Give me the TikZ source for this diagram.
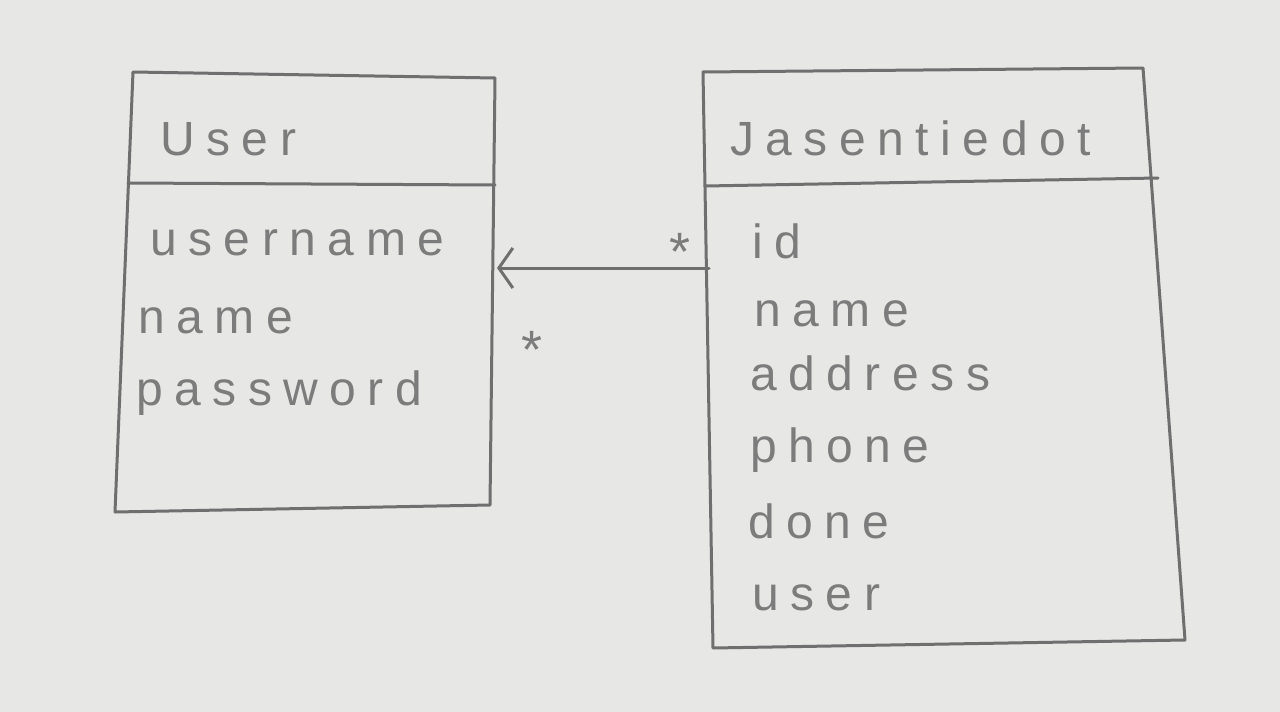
\documentclass[tikz,border=0pt]{standalone}
\usepackage{fontspec}
\setmainfont{Liberation Sans}[LetterSpace=24]
\usetikzlibrary{arrows.meta}
\definecolor{paper}{HTML}{E7E7E6}
\definecolor{pencil}{HTML}{6F6F6F}
\definecolor{ink}{HTML}{7C7C7C}
\tikzset{
  pen/.style={draw=pencil, line width=3pt, line join=round, line cap=round},
  txt/.style={anchor=base west, inner sep=0pt, text=ink, font=\fontsize{48}{48}\selectfont},
  star/.style={inner sep=0pt, text=ink, font=\fontsize{54}{54}\selectfont}
}
\begin{document}
\begin{tikzpicture}[x=1pt,y=-1pt]
\fill[paper] (0,0) rectangle (1280,712);
\useasboundingbox (0,0) rectangle (1280,712);
% User box
\coordinate (u1) at (133,72);
\coordinate (u2) at (495,78);
\coordinate (u3) at (490,505);
\coordinate (u4) at (115,512);
\draw[pen] (u1) -- (u2) -- (u3) -- (u4) -- cycle;
\draw[pen] (128,183) -- (495,185);
% Jasentiedot box
\coordinate (j1) at (703,72);
\coordinate (j2) at (1143,68);
\coordinate (j3) at (1185,640);
\coordinate (j4) at (713,648);
\draw[pen] (j1) -- (j2) -- (j3) -- (j4) -- cycle;
\draw[pen] (705,186) -- (1158,178);
% texts
\node[txt] (ut) at (160,155) {User};
\node[txt] (ua1) at (150,255) {username};
\node[txt] (ua2) at (138,333) {name};
\node[txt] (ua3) at (136,405) {password};
\node[txt] (jt) at (730,155) {Jasentiedot};
\node[txt] (ja1) at (752,258) {id};
\node[txt] (ja2) at (754,326) {name};
\node[txt] (ja3) at (750,390) {address};
\node[txt] (ja4) at (750,462) {phone};
\node[txt] (ja5) at (748,538) {done};
\node[txt] (ja6) at (752,610) {user};
% connector
\coordinate (jl) at (709,268);
\coordinate (ur) at (497,268);
\draw[pen, -{Straight Barb[length=14pt,width=40pt,line width=3pt]}] (jl) -- (ur);
\node[star] (m1) at (680,252) {*};
\node[star] (m2) at (532,350) {*};
\end{tikzpicture}
\end{document}
